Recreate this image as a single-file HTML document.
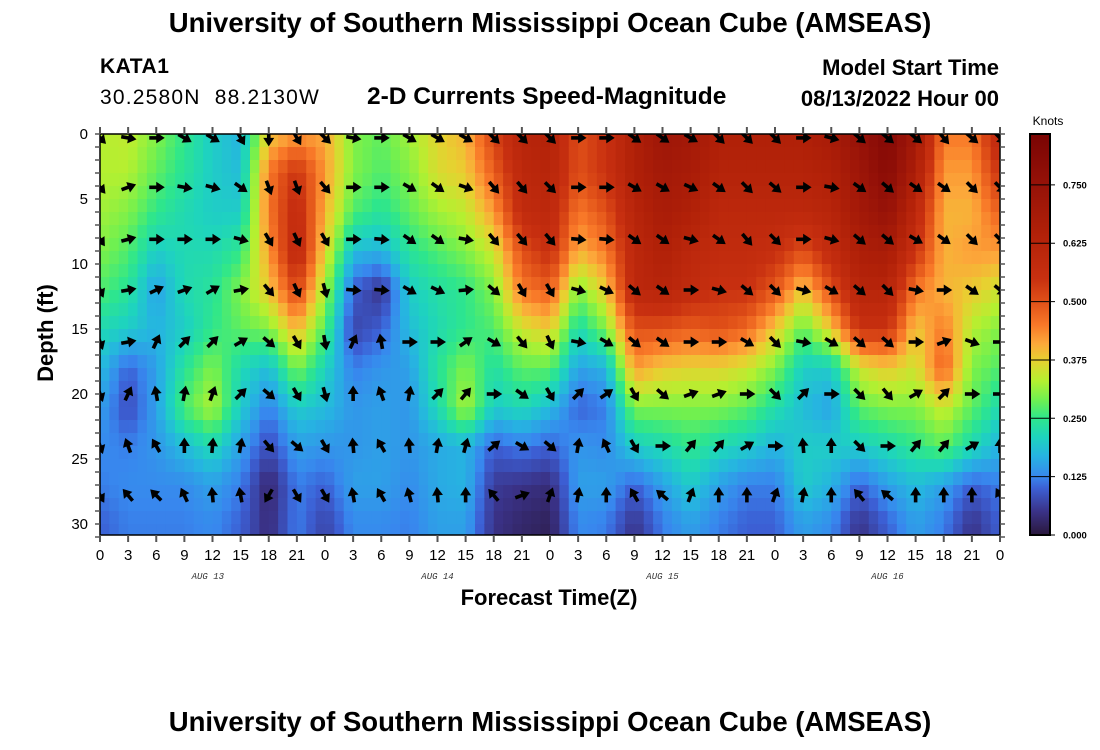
<!DOCTYPE html>
<html><head><meta charset="utf-8">
<style>
html,body{margin:0;padding:0;background:#fff;}
body{width:1100px;height:750px;position:relative;overflow:hidden;font-family:"Liberation Sans",Arial,sans-serif;}
.t{position:absolute;white-space:nowrap;color:#000;}
</style></head>
<body>
<div class="t" style="left:0;width:1100px;text-align:center;top:7px;font-size:27.5px;font-weight:bold;">University of Southern Mississippi Ocean Cube (AMSEAS)</div>
<div class="t" style="left:100px;top:55px;font-size:21px;font-weight:bold;letter-spacing:0.5px;">KATA1</div>
<div class="t" style="left:100px;top:86px;font-size:21px;letter-spacing:1.2px;">30.2580N&nbsp;&nbsp;88.2130W</div>
<div class="t" style="left:367px;top:83px;font-size:24.5px;font-weight:bold;">2-D Currents Speed-Magnitude</div>
<div class="t" style="right:101px;top:55px;font-size:22px;font-weight:bold;">Model Start Time</div>
<div class="t" style="right:101px;top:86px;font-size:22px;font-weight:bold;">08/13/2022 Hour 00</div>
<div class="t" style="left:0;width:1100px;text-align:center;top:706px;font-size:27.5px;font-weight:bold;">University of Southern Mississippi Ocean Cube (AMSEAS)</div>
<svg id="chart" width="1100" height="750" style="position:absolute;left:0;top:0;" xmlns="http://www.w3.org/2000/svg">
<defs><clipPath id="pc"><rect x="100" y="134" width="900" height="401"/></clipPath></defs>
<g id="heat" clip-path="url(#pc)"></g>
<g id="arrows" clip-path="url(#pc)"></g>
<g id="axes"></g>
<g id="cbar"></g>
</svg>
<script>
const hours = [0,3,6,9,12,15,18,21,24,27,30,33,36,39,42,45,48,51,54,57,60,63,66,69,72,75,78,81,84,87,90,93,96];
const gridDepths = [0,3,6,9,12,15,18,21,24,27,30];
const speedCols = [
[.33,.33,.32,.3,.27,.22,.18,.15,.13,.12,.1],
[.34,.33,.3,.27,.24,.2,.1,.08,.12,.13,.12],
[.3,.28,.25,.2,.15,.17,.15,.15,.14,.13,.12],
[.25,.24,.22,.22,.22,.2,.24,.27,.18,.13,.12],
[.2,.2,.2,.22,.24,.25,.3,.33,.22,.15,.13],
[.17,.18,.2,.25,.3,.28,.22,.2,.15,.12,.1],
[.38,.45,.45,.42,.38,.3,.18,.12,.08,.03,.04],
[.42,.55,.58,.6,.52,.4,.3,.2,.15,.12,.12],
[.41,.42,.4,.37,.32,.27,.21,.18,.14,.1,.07],
[.3,.3,.27,.18,.1,.07,.12,.14,.14,.15,.13],
[.28,.27,.24,.17,.05,.1,.14,.15,.15,.15,.13],
[.32,.3,.28,.24,.2,.18,.15,.14,.14,.13,.12],
[.37,.36,.32,.27,.23,.22,.24,.22,.16,.16,.15],
[.4,.38,.34,.3,.25,.25,.3,.33,.17,.17,.15],
[.52,.48,.42,.35,.3,.27,.23,.2,.1,.06,.05],
[.62,.6,.58,.5,.45,.35,.28,.22,.12,.05,.03],
[.64,.62,.6,.56,.48,.38,.28,.18,.1,.04,.02],
[.5,.5,.45,.4,.3,.22,.15,.1,.14,.15,.13],
[.55,.55,.5,.45,.38,.3,.17,.12,.13,.15,.12],
[.65,.65,.62,.6,.6,.5,.42,.3,.2,.1,.05],
[.72,.7,.68,.65,.62,.5,.38,.3,.22,.15,.12],
[.7,.68,.65,.6,.58,.48,.37,.3,.25,.2,.15],
[.65,.63,.6,.58,.55,.5,.37,.3,.22,.15,.12],
[.65,.63,.6,.58,.55,.47,.35,.28,.2,.12,.1],
[.65,.63,.6,.56,.49,.38,.3,.23,.17,.12,.1],
[.65,.63,.6,.5,.38,.28,.2,.18,.2,.2,.15],
[.68,.65,.62,.58,.5,.38,.2,.15,.2,.17,.13],
[.75,.72,.7,.66,.62,.55,.35,.28,.2,.1,.05],
[.82,.8,.75,.68,.62,.55,.38,.3,.22,.15,.1],
[.7,.66,.6,.55,.45,.38,.35,.3,.25,.18,.15],
[.45,.42,.4,.4,.4,.45,.48,.35,.28,.15,.12],
[.45,.42,.4,.42,.38,.33,.3,.28,.22,.1,.05],
[.6,.55,.48,.42,.35,.3,.27,.22,.17,.12,.1]
];
const arrowDepths = [0.3,4.1,8.1,12,16,20,24,27.8];
const arrowDirs = [
[45,10,0,30,30,60,90,60,45, 10,0,30,30,30,45,45,45, 0,0,35,35,30,45,45,45, 0,15,40,40,40,50,40,45],
[50,-20,0,10,15,35,70,70,50, 0,0,30,35,20,50,50,45, 0,0,30,30,25,35,45,40, 0,10,35,40,35,35,45,45],
[55,-15,0,0,0,15,60,65,60, 0,5,35,35,10,50,50,50, 5,5,35,35,15,35,50,45, 0,15,40,40,30,35,45,45],
[65,-10,-25,-20,-30,-10,50,65,75, 5,5,30,25,-5,40,60,60, 15,25,40,35,0,15,40,45, 15,30,40,45,10,0,35,40],
[70,-10,-65,-45,-45,-30,40,60,80, -65,-100,0,0,-35,30,50,65, 10,30,40,35,0,0,30,45, 10,30,40,40,0,-20,20,0],
[70,-65,-100,-80,-70,-45,40,60,75, -90,-110,-80,-45,-50,0,35,60, -45,-35,60,40,-20,-20,0,45, -45,0,45,50,-30,-45,0,0],
[70,-110,-120,-90,-85,-80,50,40,60, -95,-120,-95,-80,-75,-40,30,40, -80,-115,60,0,-50,-50,-30,0, -95,-90,45,0,-50,-50,-30,-90],
[60,-130,-135,-115,-95,-100,120,60,60, -100,-120,-105,-95,-90,-130,-20,-70, -80,-90,-120,-140,-70,-90,-90,-70, -80,-90,-130,-140,-90,-90,-90,-120]
];
const xTickLabels = ["0","3","6","9","12","15","18","21","0","3","6","9","12","15","18","21","0","3","6","9","12","15","18","21","0","3","6","9","12","15","18","21","0"];
const yTicks = [0,5,10,15,20,25,30];
const dateLabels = ["AUG 13","AUG 14","AUG 15","AUG 16"];
const dateHours = [11.5,36,60,84];
const cbarTicks = [0,0.125,0.25,0.375,0.5,0.625,0.75];

const NS="http://www.w3.org/2000/svg";
const X0=100,X1=1000,Y0=134,Y1=535;
const xs=h=>X0+h*(X1-X0)/96;
const ys=d=>Y0+d*13;
const VMAX=0.859, CB0=535, CBH=401;
const cs=v=>CB0-v*CBH/VMAX;
const stops=[[0,[42,24,60]],[0.05,[58,50,135]],[0.1,[60,95,212]],[0.125,[56,135,238]],[0.17,[38,180,225]],[0.21,[30,212,190]],[0.25,[46,230,140]],[0.29,[112,240,80]],[0.33,[180,240,48]],[0.375,[232,208,48]],[0.41,[252,168,58]],[0.45,[248,120,40]],[0.5,[224,80,24]],[0.55,[200,48,16]],[0.65,[176,32,8]],[0.75,[150,18,8]],[0.86,[122,4,3]]];
function col(v){
  if(v<=stops[0][0])return `rgb(${stops[0][1]})`;
  for(let i=1;i<stops.length;i++){if(v<=stops[i][0]){const a=stops[i-1],b=stops[i],t=(v-a[0])/(b[0]-a[0]);
    return 'rgb('+[0,1,2].map(k=>Math.round(a[1][k]+(b[1][k]-a[1][k])*t)).join(',')+')';}}
  return `rgb(${stops[stops.length-1][1]})`;
}
function mk(tag,attrs,parent){const e=document.createElementNS(NS,tag);for(const k in attrs)e.setAttribute(k,attrs[k]);parent.appendChild(e);return e;}
function sample(h,d){
  let ci=Math.min(Math.floor(h/3),hours.length-2), tx=(h-hours[ci])/3;
  let ri=Math.min(Math.floor(d/3),gridDepths.length-2), ty=(d-gridDepths[ri])/3; ty=Math.min(ty,1);
  const a=speedCols[ci][ri],b=speedCols[ci+1][ri],c=speedCols[ci][ri+1],e=speedCols[ci+1][ri+1];
  return (a*(1-tx)+b*tx)*(1-ty)+(c*(1-tx)+e*tx)*ty;
}
const heat=document.getElementById('heat');
for(let h=0;h<96;h++){for(let d=0;d<31;d++){
  const v=sample(h+0.5,d+0.5);
  const r=mk('rect',{x:xs(h),y:ys(d),width:xs(h+1)-xs(h)+0.6,height:13.6,fill:col(v)},heat);
  
  
}}
const ar=document.getElementById('arrows');
arrowDepths.forEach((d,ri)=>{hours.forEach((h,ci)=>{
  const g=mk('g',{transform:`translate(${xs(h)},${ys(d)}) rotate(${arrowDirs[ri][ci]})`},ar);
  
  
  mk('line',{x1:-7,y1:0,x2:2,y2:0,stroke:'#000','stroke-width':3.6},g);
  mk('polygon',{points:'8.5,0 0,-5.5 0,5.5',fill:'#000'},g);
});});
const ax=document.getElementById('axes');
const fr=mk('rect',{x:X0,y:Y0,width:X1-X0,height:Y1-Y0,fill:'none',stroke:'#000','stroke-width':1.5},ax);


for(let d=0;d<=31;d++){
  mk('line',{x1:X0-5,y1:ys(d),x2:X0,y2:ys(d),stroke:'#555','stroke-width':1.5},ax);
  mk('line',{x1:X1,y1:ys(d),x2:X1+5,y2:ys(d),stroke:'#555','stroke-width':1.5},ax);
}
yTicks.forEach(d=>{
  const t=mk('text',{x:X0-12,y:ys(d)+5,'text-anchor':'end','font-size':15,'font-family':'Liberation Sans, sans-serif'},ax);
  t.textContent=d;
  
  
});
hours.forEach((h,i)=>{
  mk('line',{x1:xs(h),y1:Y0-7,x2:xs(h),y2:Y0,stroke:'#555','stroke-width':2},ax);
  mk('line',{x1:xs(h),y1:Y1,x2:xs(h),y2:Y1+7,stroke:'#555','stroke-width':2},ax);
  const t=mk('text',{x:xs(h),y:Y1+25,'text-anchor':'middle','font-size':15,'font-family':'Liberation Sans, sans-serif'},ax);
  t.textContent=xTickLabels[i];
  
  
});
dateLabels.forEach((s,i)=>{
  const t=mk('text',{x:xs(dateHours[i]),y:Y1+44,'text-anchor':'middle','font-size':9,'font-style':'italic','font-family':'Liberation Mono, monospace',fill:'#333'},ax);
  t.textContent=s;
  
  
});
const xt=mk('text',{x:549,y:605,'text-anchor':'middle','font-size':22,'font-weight':'bold','font-family':'Liberation Sans, sans-serif'},ax);
xt.textContent='Forecast Time(Z)';


const yt=mk('text',{x:0,y:0,transform:'translate(53,333) rotate(-90)','text-anchor':'middle','font-size':22,'font-weight':'bold','font-family':'Liberation Sans, sans-serif'},ax);
yt.textContent='Depth (ft)';


const cb=document.getElementById('cbar');
for(let p=0;p<CBH;p++){
  const v=(CBH-p-0.5)/CBH*VMAX;
  const r=mk('rect',{x:1030,y:134+p,width:20,height:1.2,fill:col(v)},cb);
  
  
}
const cf=mk('rect',{x:1030,y:134,width:20,height:CBH,fill:'none',stroke:'#000','stroke-width':2},cb);


cbarTicks.forEach(v=>{
  mk('line',{x1:1030,y1:cs(v),x2:1055,y2:cs(v),stroke:'#000','stroke-width':1},cb);
  const t=mk('text',{x:1063,y:cs(v)+3.5,'font-size':9.5,'font-weight':'bold','font-family':'Liberation Sans, sans-serif'},cb);
  t.textContent=v.toFixed(3);
  
  
});
const kt=mk('text',{x:1048,y:125,'text-anchor':'middle','font-size':12,'font-family':'Liberation Sans, sans-serif'},cb);
kt.textContent='Knots';


</script>
</body></html>
